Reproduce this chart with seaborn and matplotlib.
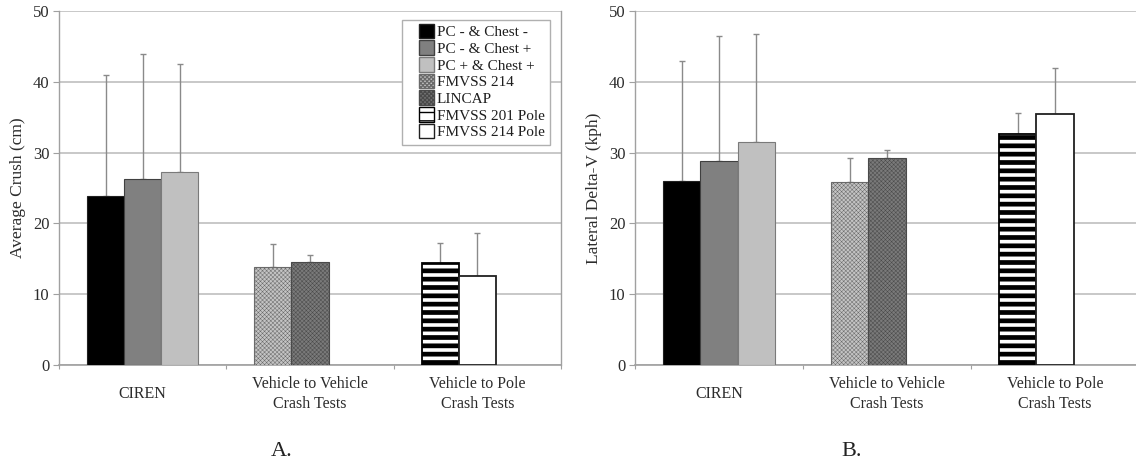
import matplotlib
matplotlib.use("Agg")
import matplotlib.pyplot as plt
import matplotlib.patches as mpatches
from matplotlib.container import BarContainer
from matplotlib.legend_handler import HandlerPatch
import seaborn as sns
import pandas as pd
import numpy as np

# ---------------- data ----------------
groups = ["CIREN", "Vehicle to Vehicle\nCrash Tests", "Vehicle to Pole\nCrash Tests"]
series = ["PC - & Chest -", "PC - & Chest +", "PC + & Chest +",
          "FMVSS 214", "LINCAP", "FMVSS 201 Pole", "FMVSS 214 Pole"]
series_group = [0, 0, 0, 1, 1, 2, 2]
series_slot = ["s1", "s2", "s3", "s1", "s2", "s1", "s2"]

crush_mean = [23.9, 26.3, 27.3, 13.8, 14.5, 14.4, 12.6]
crush_sd = [17.0, 17.6, 15.2, 3.3, 1.1, 2.9, 6.1]
dv_mean = [26.0, 28.8, 31.5, 25.9, 29.3, 32.6, 35.5]
dv_sd = [16.9, 17.6, 15.3, 3.3, 1.1, 3.0, 6.4]

panel_labels = ["A.", "B."]
y_labels = ["Average Crush (cm)", "Lateral Delta-V (kph)"]

# ---------------- styles ----------------
styles = {
    "PC - & Chest -": dict(facecolor="#000000", edgecolor="#202020", hatch=None, hlw=1.0),
    "PC - & Chest +": dict(facecolor="#808080", edgecolor="#404040", hatch=None, hlw=1.0),
    "PC + & Chest +": dict(facecolor="#c0c0c0", edgecolor="#7a7a7a", hatch=None, hlw=1.0),
    "FMVSS 214": dict(facecolor="#c4c4c4", edgecolor="#6a6a6a", hatch="xxxxxxxx", hlw=0.35),
    "LINCAP": dict(facecolor="#7a7a7a", edgecolor="#4a4a4a", hatch="xxxxxxxx", hlw=0.35),
    "FMVSS 201 Pole": dict(facecolor="#ffffff", edgecolor="#000000", hatch="--", hlw=3.4),
    "FMVSS 214 Pole": dict(facecolor="#ffffff", edgecolor="#202020", hatch=None, hlw=1.0),
}

sns.set_theme(style="white")
plt.rcParams["font.family"] = ["Liberation Serif", "DejaVu Serif"]

W, H = 1136, 461
fig = plt.figure(figsize=(W / 100, H / 100), dpi=100)

def fx(px):
    return px / W

def fy(py):
    return 1 - py / H

top_px, bot_px = 11, 365
axA = fig.add_axes([fx(59), fy(bot_px), fx(561 - 59), fy(top_px) - fy(bot_px)])
axB = fig.add_axes([fx(635), fy(bot_px), fx(1139 - 635), fy(top_px) - fy(bot_px)])

grid_c = "#c8c8c8"
text_c = "#2c2c2c"


def draw_panel(ax, means, sds, ylabel):
    df = pd.DataFrame({
        "group": [groups[g] for g in series_group],
        "slot": series_slot,
        "series": series,
        "value": means,
        "sd": sds,
    })
    sns.barplot(data=df, x="group", y="value", hue="slot",
                order=groups, hue_order=["s1", "s2", "s3"],
                width=0.665, gap=0, errorbar=None, legend=False, ax=ax,
                zorder=3)
    bar_conts = [c for c in ax.containers if isinstance(c, BarContainer)]
    err_jobs = []
    for ci, cont in enumerate(bar_conts):
        slot = ["s1", "s2", "s3"][ci]
        for bar in cont:
            xc = bar.get_x() + bar.get_width() / 2
            gi = int(round(xc))
            row = df[(df["group"] == groups[gi]) & (df["slot"] == slot)]
            if row.empty:
                bar.set_visible(False)
                continue
            name = row["series"].iloc[0]
            st = styles[name]
            bar.set_facecolor(st["facecolor"])
            bar.set_edgecolor(st["edgecolor"])
            bar.set_linewidth(1.3 if name in ("FMVSS 201 Pole", "FMVSS 214 Pole") else 0.8)
            if st["hatch"]:
                bar.set_hatch(st["hatch"])
                if hasattr(bar, "set_hatch_linewidth"):
                    bar.set_hatch_linewidth(st["hlw"])
            err_jobs.append((xc, row["value"].iloc[0], row["sd"].iloc[0]))
    for xc, v, sd in err_jobs:
        ax.errorbar(xc, v, yerr=[[0], [sd]],
                    fmt="none", ecolor="#8a8a8a", elinewidth=1.0,
                    capsize=2.2, capthick=1.0, zorder=2)

    ax.set_xlim(-0.5, 2.5)
    ax.set_ylim(0, 50)
    ax.set_yticks([0, 10, 20, 30, 40, 50])
    ax.set_facecolor("white")
    ax.yaxis.grid(True, color=grid_c, linewidth=1.4, zorder=0)
    ax.set_axisbelow(True)
    for s in ["top", "right"]:
        ax.spines[s].set_visible(False)
    ax.spines["left"].set_color("#a0a0a0")
    ax.spines["bottom"].set_color("#a0a0a0")
    ax.spines["left"].set_linewidth(1.0)
    ax.spines["bottom"].set_linewidth(1.2)
    ax.tick_params(axis="y", which="major", left=True, length=4, width=0.8,
                   color="#a0a0a0", labelsize=12, labelcolor=text_c, pad=3)
    ax.set_xticks([0, 1, 2])
    ax.set_xticklabels(groups)
    ax.set_xticks([-0.5, 0.5, 1.5, 2.5], minor=True)
    ax.tick_params(axis="x", which="major", bottom=False, length=0, pad=21,
                   labelsize=11.5, labelcolor=text_c)
    ax.tick_params(axis="x", which="minor", bottom=True, length=3, width=0.8,
                   color="#a0a0a0")
    for lab in ax.get_xticklabels():
        lab.set_verticalalignment("center")
        lab.set_linespacing(1.3)
    ax.set_xlabel("")
    ax.set_ylabel(ylabel, fontsize=12.5, color=text_c, labelpad=5)


draw_panel(axA, crush_mean, crush_sd, y_labels[0])
draw_panel(axB, dv_mean, dv_sd, y_labels[1])

# right border line of panel A plot area
axA.spines["right"].set_visible(True)
axA.spines["right"].set_color("#a0a0a0")
axA.spines["right"].set_linewidth(1.0)


# legend with small square swatches placed at the right of the handle box
def square_patch(legend, orig_handle, xdescent, ydescent, width, height, fontsize):
    s = 10.5
    return mpatches.Rectangle((-xdescent + width - s, -ydescent + (height - s) / 2), s, s)


handles = []
for name in series:
    st = styles[name]
    p = mpatches.Patch(facecolor=st["facecolor"], edgecolor=st["edgecolor"],
                       hatch=st["hatch"], linewidth=1.0, label=name)
    if st["hatch"] and hasattr(p, "set_hatch_linewidth"):
        p.set_hatch_linewidth(st["hlw"])
    handles.append(p)
leg = axA.legend(handles=handles, loc="upper right",
                 bbox_to_anchor=(fx(550), fy(20)), bbox_transform=fig.transFigure,
                 handler_map={mpatches.Patch: HandlerPatch(patch_func=square_patch)},
                 fontsize=11, frameon=True, fancybox=False, framealpha=1,
                 edgecolor="#b0b0b0", borderpad=0.35, labelspacing=0.18,
                 handlelength=1.75, handleheight=0.75, handletextpad=0.2,
                 borderaxespad=0)
leg.get_frame().set_linewidth(1.0)
for t in leg.get_texts():
    t.set_color("#1e1e1e")
leg.set_zorder(10)

fig.text(fx(282), fy(456), panel_labels[0], ha="center", va="baseline",
         fontsize=16, color="#222222")
fig.text(fx(852), fy(456), panel_labels[1], ha="center", va="baseline",
         fontsize=16, color="#222222")

fig.savefig("out.png", dpi=100, facecolor="white")
